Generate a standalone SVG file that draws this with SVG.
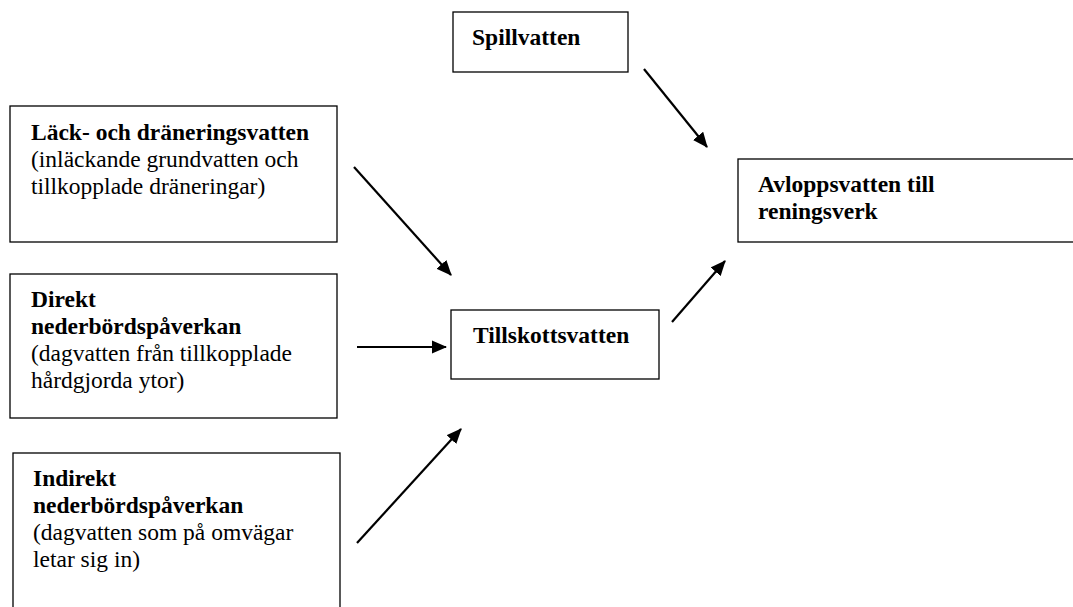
<svg xmlns="http://www.w3.org/2000/svg" width="1073" height="607" viewBox="0 0 1073 607">
<style>
.box{fill:#fff;stroke:#000;stroke-width:1.3}
.t{font-family:"Liberation Serif","Times New Roman",serif;font-size:23.5px;fill:#000}
.b{font-weight:bold}
.c{stroke:#000;stroke-width:2.2;fill:none;marker-end:url(#ah)}
</style>
<defs>
<marker id="ah" viewBox="0 0 14 12" refX="13" refY="6" markerWidth="7" markerHeight="6" markerUnits="strokeWidth" orient="auto">
<path d="M0,0 L14,6 L0,12 z" fill="#000"/>
</marker>
</defs>
<rect width="1073" height="607" fill="#fff"/>
<g id="spillvatten">
<rect class="box" x="453" y="12" width="175" height="60"/>
<text class="t b" x="472" y="45">Spillvatten</text>
</g>
<g id="lack">
<rect class="box" x="10" y="106" width="327" height="136"/>
<text class="t" x="31" y="140"><tspan class="b">Läck- och dräneringsvatten</tspan><tspan x="31" y="167">(inläckande grundvatten och</tspan><tspan x="31" y="194">tillkopplade dräneringar)</tspan></text>
</g>
<g id="avlopp">
<rect class="box" x="738" y="159" width="345" height="83"/>
<text class="t b" x="758" y="192">Avloppsvatten till<tspan x="758" y="219">reningsverk</tspan></text>
</g>
<g id="direkt">
<rect class="box" x="10" y="274" width="327" height="144"/>
<text class="t" x="31" y="307"><tspan class="b">Direkt</tspan><tspan class="b" x="31" y="334">nederbördspåverkan</tspan><tspan x="31" y="361">(dagvatten från tillkopplade</tspan><tspan x="31" y="388">hårdgjorda ytor)</tspan></text>
</g>
<g id="tillskott">
<rect class="box" x="451" y="310" width="208" height="69"/>
<text class="t b" x="473" y="343">Tillskottsvatten</text>
</g>
<g id="indirekt">
<rect class="box" x="13" y="453" width="327" height="170"/>
<text class="t" x="33" y="486"><tspan class="b">Indirekt</tspan><tspan class="b" x="33" y="513">nederbördspåverkan</tspan><tspan x="33" y="540">(dagvatten som på omvägar</tspan><tspan x="33" y="567">letar sig in)</tspan></text>
</g>
<g id="connectors">
<line class="c" x1="644" y1="69" x2="707" y2="147"/>
<line class="c" x1="354" y1="167" x2="451" y2="275"/>
<line class="c" x1="357" y1="347" x2="446" y2="347"/>
<line class="c" x1="357" y1="543" x2="461" y2="429"/>
<line class="c" x1="672" y1="322" x2="725" y2="261"/>
</g>
</svg>
